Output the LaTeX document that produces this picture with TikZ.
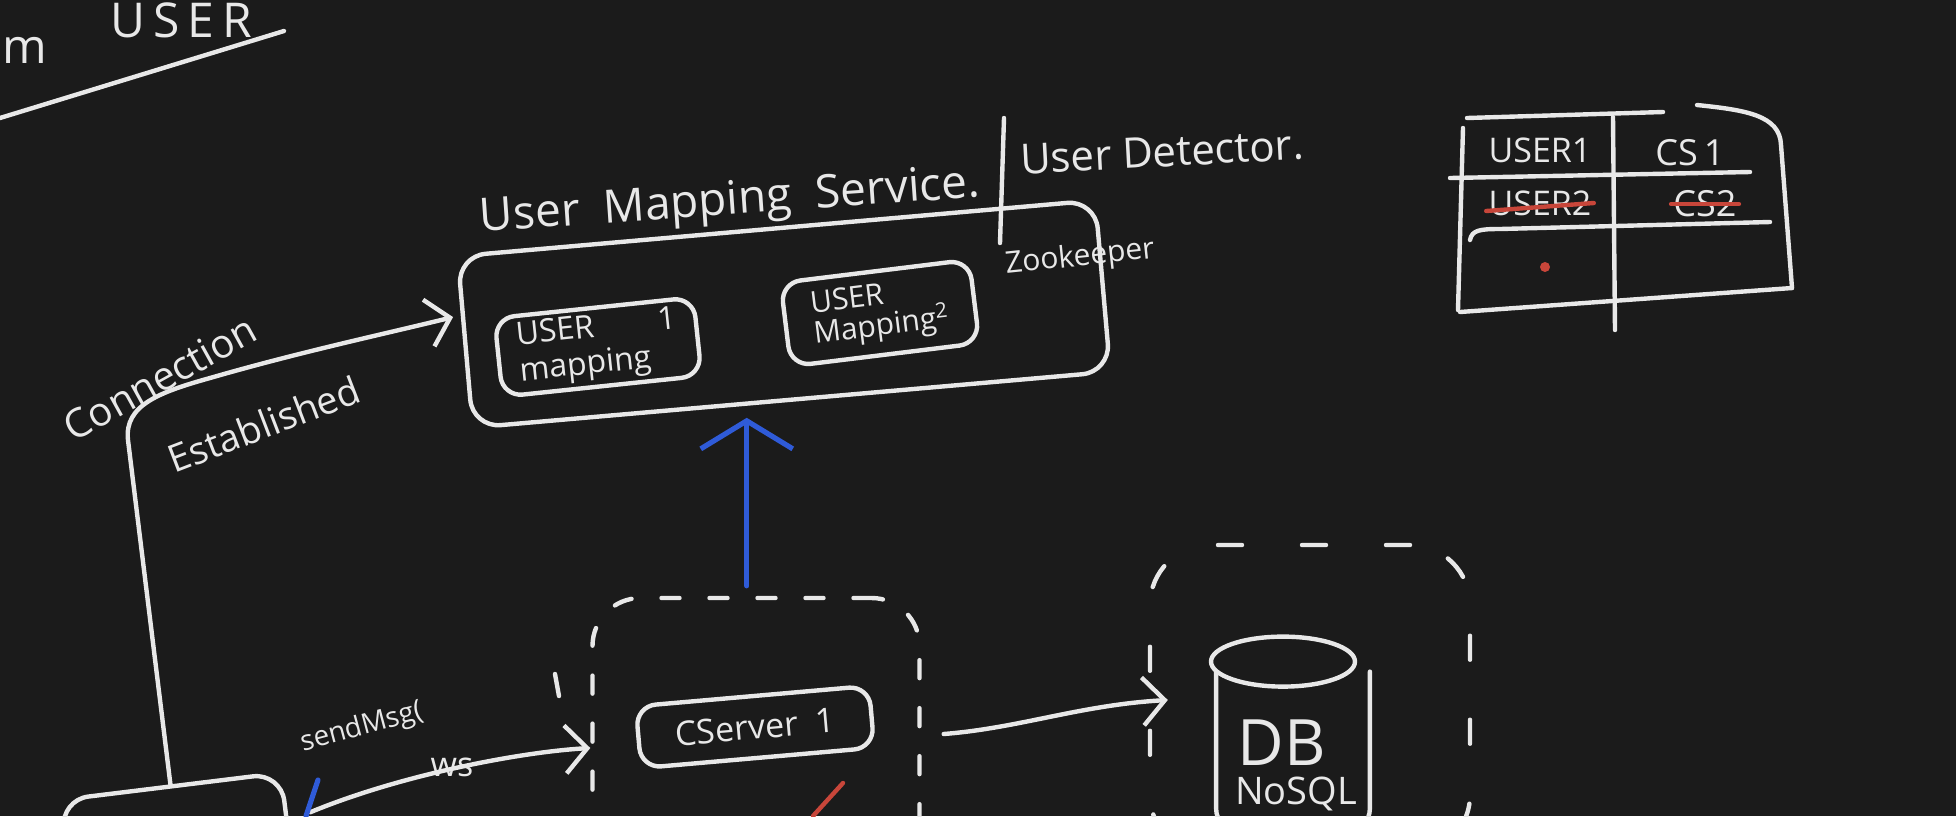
\documentclass[tikz,border=0pt]{standalone}
\usepackage{fontspec}
\setmainfont{Open Sans}
\usetikzlibrary{arrows.meta,calc}
\definecolor{board}{HTML}{1B1B1B}
\definecolor{chalk}{HTML}{E8E8E8}
\definecolor{inkred}{HTML}{C8463A}
\definecolor{inkblue}{HTML}{2F5BD8}
\tikzset{
  ink/.style={draw=chalk, line width=2.2pt, line cap=round, line join=round},
  hbox/.style={ink, rectangle, rounded corners=10pt, inner sep=3pt, text=chalk},
  zone/.style={ink, rectangle, rounded corners=24pt, dash pattern=on 9pt off 15pt},
  txt/.style={text=chalk, inner sep=1pt},
  chev/.style={-{Straight Barb[length=11pt,width=24pt]}},
  bluepen/.style={draw=inkblue, line width=2.6pt, line cap=round, line join=round},
  strike/.style={draw=inkred, line width=2.2pt, line cap=round},
}
\begin{document}
\begin{tikzpicture}[x=0.5pt,y=-0.5pt]
\fill[board] (0,0) rectangle (1956,816);
\useasboundingbox (0,0) rectangle (1956,816);
\clip (0,0) rectangle (1956,816);

% top-left fragment
\node[txt, font=\fontsize{24}{26}\selectfont, anchor=base east] (frm) at (50,63) {m};
\node[txt, font=\fontsize{24}{26}\selectfont, anchor=base west] (frusr) at (108,37) {U\,S\,E\,R};
\coordinate (ul1) at (0,118);
\coordinate (ul2) at (284,31);
\draw[ink] (ul1) -- (ul2);

% User mapping service
\node[txt, font=\fontsize{23}{26}\selectfont, rotate=4] (umstitle) at (730,203) {User\ \ Mapping\ \ Service.};
\coordinate (dv1) at (1004,118);
\coordinate (dv2) at (1000,243);
\draw[ink] (dv1) -- (dv2);
\node[txt, font=\fontsize{21}{24}\selectfont, rotate=3] (udet) at (1162,152) {User Detector.};
\node[txt, font=\fontsize{15}{18}\selectfont, rotate=6] (zk) at (1080,258) {Zookeeper};

\node[hbox, minimum width=320pt, minimum height=86pt, rotate=5, rounded corners=14pt] (ums) at (784,314) {};
\node[hbox, minimum width=100pt, minimum height=38pt, rotate=6, align=left, font=\fontsize{16}{18}\selectfont] (um1) at (598,347) {USER\qquad 1\\ mapping};
\node[hbox, minimum width=95pt, minimum height=42pt, rotate=7, align=left, font=\fontsize{15}{15}\selectfont] (um2) at (880,313) {USER\\Mapping\textsuperscript{2}};

% table
\draw[ink] (1467,118) -- (1663,112);
\draw[ink] (1697,105) .. controls (1745,110) and (1780,115) .. (1781,145) -- (1792,288);
\draw[ink] (1463,128) -- (1458,310);
\draw[ink] (1460,312) -- (1792,288);
\draw[ink] (1613,117) -- (1615,330);
\draw[ink] (1450,178) -- (1750,172);
\draw[ink] (1470,240) .. controls (1472,230) and (1480,229) .. (1500,229) -- (1770,222);
\node[txt, font=\fontsize{17}{18}\selectfont] (t11) at (1540,150) {USER1};
\node[txt, font=\fontsize{18}{18}\selectfont] (t12) at (1690,153) {CS\,1};
\node[txt, font=\fontsize{17}{18}\selectfont] (t21) at (1540,203) {USER2};
\node[txt, font=\fontsize{18}{18}\selectfont] (t22) at (1705,204) {CS2};
\draw[strike] ([yshift=-4pt]t21.west) -- ([yshift=0pt]t21.east);
\draw[strike] (t22.west) -- (t22.east);
\fill[inkred] (1545,267) circle [radius=2.5pt];

% client box (cut off)
\node[hbox, minimum width=111pt, minimum height=60pt, rotate=7, rounded corners=14pt] (client) at (178,846) {};

% connection established
\draw[ink, chev] (client.north) -- (128,440) .. controls (124,405) and (160,392) .. (210,378)
  .. controls (300,352) and (380,335) .. ([shift={(-10,-25)}]ums.west);
\node[txt, font=\fontsize{20}{22}\selectfont, rotate=29] (lconn) at (160,378) {Connection};
\node[txt, font=\fontsize{19}{22}\selectfont, rotate=21] (lest) at (264,424) {Established};

% CServer zone
\node[zone, minimum width=163.5pt, minimum height=136pt] (cs) at (756,734) {};
\node[hbox, minimum width=117pt, minimum height=31pt, rotate=5, font=\fontsize{17}{20}\selectfont] (cs1) at (755,727) {CServer\ \ 1};
\draw[ink] (555,674) -- (559,696);

% blue arrow
\coordinate (ub) at ($(ums.south west)!0.43!(ums.south east)$);
\draw[bluepen, -{Straight Barb[length=14pt,width=46pt]}] ([yshift=5pt]cs.north -| ub) -- ([yshift=-6pt]ub);

% ws arrow
\draw[ink, chev] ([shift={(20,-20)}]client.east) .. controls (400,775) and (520,752) .. ([yshift=-7pt]cs.west);
\node[txt, font=\fontsize{14}{16}\selectfont, rotate=15] (lsend) at (362,728) {sendMsg(};
\node[txt, font=\fontsize{17}{18}\selectfont] (lws) at (452,767) {ws};
\draw[bluepen] (318,780) -- (306,816);

% DB zone
\node[zone, minimum width=160pt, minimum height=155pt, rounded corners=30pt, dash pattern=on 12pt off 30pt] (dbz) at (1310,700) {};
\draw[ink, chev] ([xshift=11pt]cs.east) .. controls (1020,728) and (1080,705) .. ([xshift=10pt]dbz.west);

% DB cylinder
\node[minimum width=76.5pt, minimum height=80pt, inner sep=0pt] (db) at (1293,752) {};
\draw[ink, rounded corners=12pt] (db.north west) -- (db.south west) -- (db.south east) -- (db.north east);
\draw[ink] ([shift={(-10,-10)}]db.north) ellipse [x radius=36pt, y radius=12.5pt];
\node[txt, font=\fontsize{32}{34}\selectfont] (dbt) at (1282,743) {DB};
\node[txt, font=\fontsize{19}{20}\selectfont] (nosql) at (1296,794) {NoSQL};

% red stroke
\draw[strike] (843,783) -- (813,816);
\end{tikzpicture}
\end{document}
